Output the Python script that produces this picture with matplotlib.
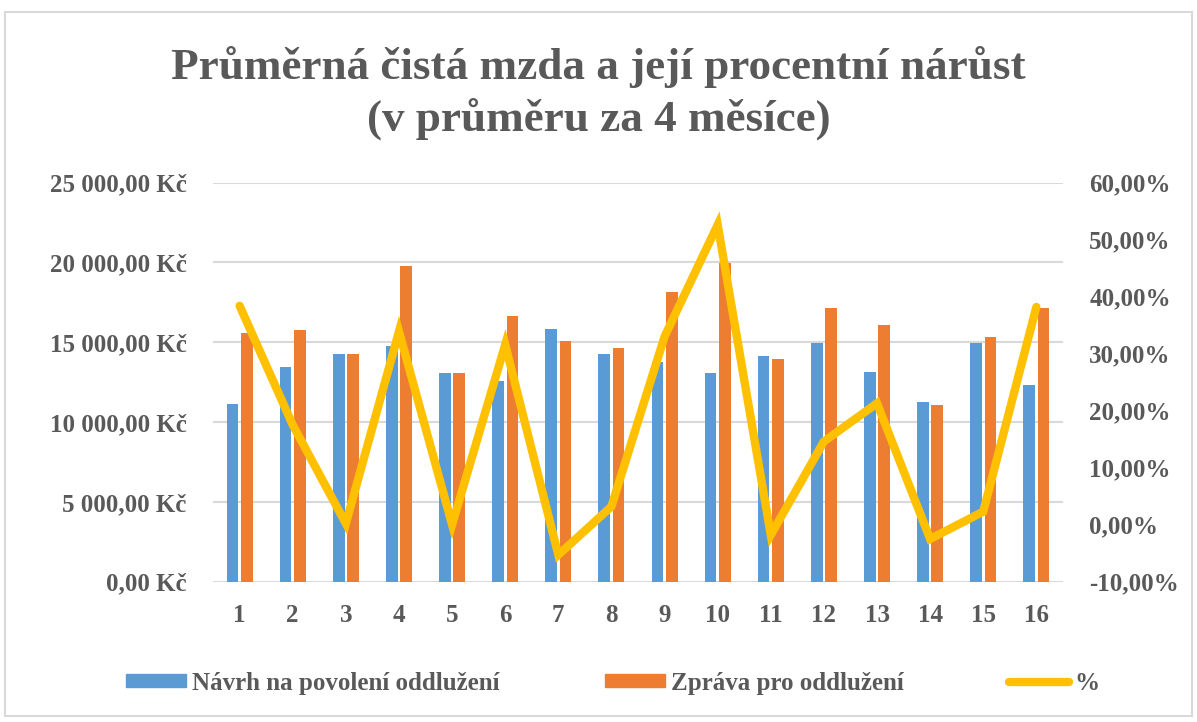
import matplotlib.pyplot as plt
from matplotlib.patches import Rectangle, Patch
from matplotlib.lines import Line2D
from matplotlib.ticker import FuncFormatter, MultipleLocator
import numpy as np

# Data
categories = [str(i) for i in range(1, 17)]
navrh = [11150, 13450, 14260, 14760, 13050, 12570, 15850, 14260,
         13760, 13050, 14150, 14950, 13150, 11230, 14950, 12340]
zprava = [15560, 15750, 14260, 19760, 13050, 16660, 15060, 14660,
          18150, 19950, 13950, 17160, 16060, 11050, 15350, 17160]
procenta = [0.384, 0.175, 0.002, 0.339, 0.000, 0.316, -0.053, 0.032,
            0.330, 0.526, -0.018, 0.146, 0.213, -0.025, 0.023, 0.382]

labels = ["Návrh na povolení oddlužení", "Zpráva pro oddlužení", "%"]
title = "Průměrná čistá mzda a její procentní nárůst\n(v průměru za 4 měsíce)"

BLUE = "#5B9BD5"
ORANGE = "#ED7D31"
YELLOW = "#FFC000"
TEXT = "#595959"
GRID = "#D9D9D9"
FONT = "Liberation Serif"

fig = plt.figure(figsize=(11.97, 7.22), dpi=100)
fig.patches.append(Rectangle((0.004, 0.008), 0.992, 0.976, transform=fig.transFigure,
                             fill=False, edgecolor=GRID, linewidth=1.5))

ax = fig.add_axes([0.178, 0.1943, 0.710, 0.5527])
x = np.arange(1, len(categories) + 1)
w = 0.22
ax.bar(x - 0.135, navrh, width=w, color=BLUE, zorder=2)
ax.bar(x + 0.135, zprava, width=w, color=ORANGE, zorder=2)

ax.set_xlim(0.5, 16.5)
ax.set_ylim(0, 25000)
ax.yaxis.set_major_locator(MultipleLocator(5000))
ax.yaxis.set_major_formatter(FuncFormatter(
    lambda v, p: f"{v:,.2f}".replace(",", " ").replace(".", ",") + " Kč"))
ax.grid(axis="y", color=GRID, linewidth=1.5, zorder=0)
ax.set_axisbelow(True)
for s in ax.spines.values():
    s.set_visible(False)
ax.set_xticks(x)
ax.set_xticklabels(categories)
ax.tick_params(axis="both", length=0, colors=TEXT, labelsize=18)
ax.tick_params(axis="y", pad=19)
ax.tick_params(axis="x", pad=16)

ax2 = ax.twinx()
ax2.plot(x, procenta, color=YELLOW, linewidth=6, solid_joinstyle="miter",
         solid_capstyle="round", zorder=3)
ax2.set_ylim(-0.1, 0.6)
ax2.yaxis.set_major_locator(MultipleLocator(0.1))
ax2.yaxis.set_major_formatter(FuncFormatter(
    lambda v, p: f"{v * 100:.2f}".replace(".", ",").replace("-0,00", "0,00") + "%"))
for s in ax2.spines.values():
    s.set_visible(False)
ax2.tick_params(axis="y", length=0, colors=TEXT, labelsize=18, pad=19)

for lab in ax.get_xticklabels() + ax.get_yticklabels() + ax2.get_yticklabels():
    lab.set_fontfamily(FONT)
    lab.set_fontweight("bold")

fig.text(0.5, 0.871, title, ha="center", va="center", fontsize=32.5,
         fontfamily=FONT, fontweight="bold", color=TEXT, linespacing=1.3)

handles = [Patch(color=BLUE), Patch(color=ORANGE),
           Line2D([0], [0], color=YELLOW, linewidth=6, solid_capstyle="round")]
fig.legend(handles, labels, loc="center", bbox_to_anchor=(0.512, 0.054), ncol=3,
           frameon=False, handlelength=2.4, handleheight=0.4, columnspacing=4.2,
           handletextpad=0.25,
           prop={"family": FONT, "weight": "bold", "size": 18}, labelcolor=TEXT)

fig.savefig("out.png", dpi=100)
